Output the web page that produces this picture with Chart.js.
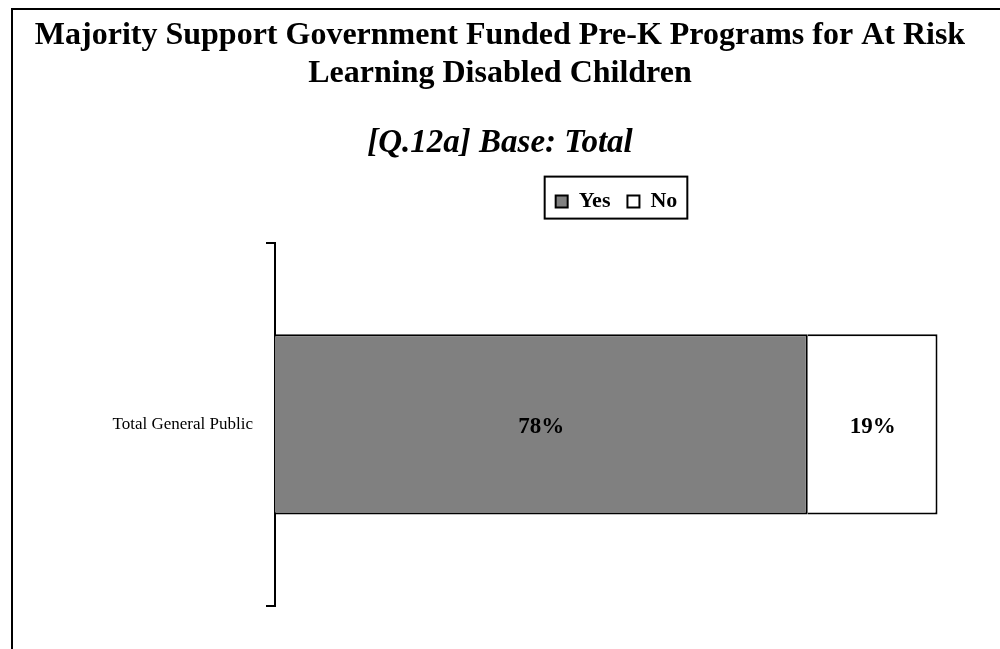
<!DOCTYPE html>
<html>
<head>
<meta charset="utf-8">
<script src="https://cdn.jsdelivr.net/npm/chart.js@4"></script>
<style>
  html, body { margin: 0; padding: 0; background: #fff; }
  #wrap { width: 1000px; height: 649px; }
</style>
</head>
<body>
<div id="wrap"><canvas id="myChart"></canvas></div>
<script>
let categories = ['Total General Public'];
let yes = [78];
let no = [19];
let seriesNames = ['Yes', 'No'];

let serif = "'Liberation Serif', 'Times New Roman', serif";
Chart.defaults.color = '#000';
Chart.defaults.font.family = serif;

// outer frame, only left and top edges show
let frame = {
  id: 'frame',
  beforeDraw(chart) {
    let c = chart.ctx;
    c.save();
    c.strokeStyle = '#000';
    c.lineWidth = 2;
    c.beginPath();
    c.moveTo(12, chart.height);
    c.lineTo(12, 9);
    c.lineTo(chart.width, 9);
    c.stroke();
    c.restore();
  }
};

// box round the legend items
let legendBox = {
  id: 'legendBox',
  afterDraw(chart) {
    let hb = chart.legend.legendHitBoxes;
    if (!hb || !hb.length) return;
    let first = hb[0], last = hb[hb.length - 1];
    let c = chart.ctx;
    c.save();
    c.strokeStyle = '#000';
    c.lineWidth = 2;
    c.strokeRect(first.left - 11, first.top - 14, last.left + last.width + 10 - (first.left - 11), 42);
    c.restore();
  }
};

// percentage in the middle of each bar segment
let barLabels = {
  id: 'barLabels',
  afterDatasetsDraw(chart) {
    let c = chart.ctx;
    c.save();
    c.font = 'bold 23px ' + serif;
    c.fillStyle = '#000';
    c.textAlign = 'center';
    c.textBaseline = 'middle';
    chart.data.datasets.forEach((ds, i) => {
      chart.getDatasetMeta(i).data.forEach((bar, j) => {
        let p = bar.getCenterPoint();
        c.fillText(ds.data[j] + '%', p.x, p.y + 3);
      });
    });
    c.restore();
  }
};

let ctx = document.getElementById('myChart').getContext('2d');

let myChart = new Chart(ctx, {
  type: 'bar',
  data: {
    labels: categories,
    datasets: [
      {
        label: seriesNames[0],
        data: yes,
        backgroundColor: '#808080',
        borderColor: '#000',
        borderWidth: 2
      },
      {
        label: seriesNames[1],
        data: no,
        backgroundColor: '#ffffff',
        borderColor: '#000',
        borderWidth: 2
      }
    ]
  },
  options: {
    indexAxis: 'y',
    responsive: true,
    maintainAspectRatio: false,
    animation: false,
    categoryPercentage: 0.496,
    barPercentage: 1,
    layout: { padding: { left: 0, right: 0, top: 0, bottom: 43 } },
    scales: {
      x: {
        stacked: true,
        position: 'top',
        min: 0,
        max: 100,
        grid: { display: false },
        border: { display: false },
        ticks: { display: false },
        afterFit(scale) { scale.height = 20; }
      },
      y: {
        stacked: true,
        grid: {
          drawOnChartArea: false,
          offset: true,
          color: '#000',
          lineWidth: 2,
          tickLength: 9
        },
        border: { color: '#000', width: 2 },
        ticks: {
          padding: 13,
          font: { size: 17 }
        },
        afterFit(scale) { scale.width = 275; }
      },
      // empty strip on the right of the plot
      yRight: {
        type: 'category',
        position: 'right',
        display: true,
        grid: { display: false },
        border: { display: false },
        ticks: { display: false },
        afterFit(scale) { scale.width = 42; }
      }
    },
    plugins: {
      title: {
        display: true,
        text: ['Majority Support Government Funded Pre-K Programs for At Risk', 'Learning Disabled Children'],
        font: { size: 32, weight: 'bold', lineHeight: 1.1875 },
        padding: { top: 17, bottom: 0 }
      },
      subtitle: {
        display: true,
        text: '[Q.12a] Base: Total',
        color: '#000',
        font: { size: 33, weight: 'bold', style: 'italic', lineHeight: 1.2 },
        padding: { top: 31, bottom: 10 }
      },
      legend: {
        display: true,
        position: 'top',
        fullSize: false,
        labels: {
          boxWidth: 12,
          boxHeight: 12,
          padding: 17,
          font: { size: 22, weight: 'bold' }
        }
      },
      tooltip: { enabled: false }
    }
  },
  plugins: [frame, legendBox, barLabels]
});
</script>
</body>
</html>
